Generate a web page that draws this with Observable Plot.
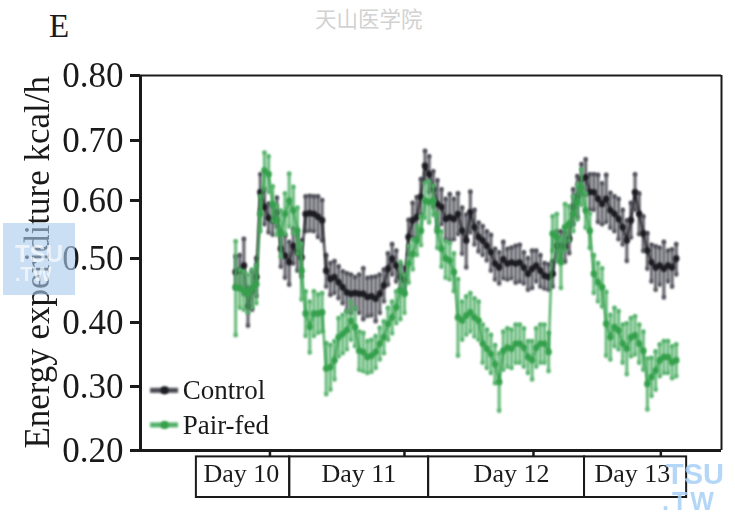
<!DOCTYPE html>
<html><head><meta charset="utf-8">
<script src="https://cdn.jsdelivr.net/npm/d3@7"></script>
<script src="https://cdn.jsdelivr.net/npm/@observablehq/plot@0.6"></script>
<style>
html,body{margin:0;padding:0;background:#fff;width:735px;height:519px;overflow:hidden}
#wrap{position:relative;width:735px;height:519px}
svg{filter:blur(.35px)}
svg g.blurmark{filter:blur(1px)}
.ov{position:absolute;white-space:nowrap;line-height:1}
</style></head><body><div id="wrap"></div>
<script>
const control=[.479,.481,.489,.425,.45,.471,.614,.589,.57,.566,.58,.517,.505,.494,.522,.511,.502,.577,.578,.577,.572,.566,.481,.468,.471,.463,.455,.447,.445,.446,.445,.445,.44,.441,.437,.445,.458,.484,.5,.489,.471,.466,.537,.566,.571,.606,.658,.644,.619,.594,.589,.568,.571,.568,.577,.548,.531,.58,.554,.537,.531,.522,.511,.492,.486,.499,.492,.494,.492,.494,.486,.476,.484,.489,.481,.473,.471,.476,.522,.522,.52,.534,.589,.606,.636,.639,.614,.614,.603,.594,.603,.583,.577,.568,.554,.531,.566,.614,.577,.543,.514,.494,.486,.489,.484,.489,.486,.5];
const controlErr=[.025,.025,.045,.03,.03,.03,.03,.03,.025,.025,.025,.03,.035,.035,.03,.03,.03,.03,.03,.03,.035,.035,.025,.025,.025,.025,.025,.03,.03,.025,.03,.04,.03,.03,.035,.03,.025,.025,.025,.025,.02,.02,.03,.03,.035,.03,.025,.03,.03,.04,.03,.035,.04,.035,.035,.04,.045,.035,.03,.025,.025,.025,.03,.025,.025,.03,.025,.025,.03,.03,.025,.025,.03,.025,.025,.02,.02,.02,.025,.025,.025,.025,.03,.035,.025,.03,.03,.03,.04,.035,.04,.03,.03,.035,.03,.035,.03,.03,.035,.03,.03,.03,.035,.03,.045,.025,.03,.025];
const pairFed=[.455,.453,.45,.445,.453,.46,.577,.65,.644,.594,.566,.543,.577,.6,.583,.548,.481,.414,.393,.414,.414,.416,.328,.33,.341,.377,.382,.388,.403,.393,.356,.354,.346,.348,.354,.367,.377,.398,.408,.424,.45,.445,.492,.508,.531,.548,.6,.597,.6,.548,.517,.5,.497,.479,.408,.403,.411,.416,.408,.403,.367,.359,.351,.335,.307,.356,.361,.359,.367,.367,.361,.346,.341,.361,.367,.367,.354,.543,.537,.494,.554,.56,.577,.597,.622,.583,.548,.476,.463,.455,.398,.377,.393,.388,.367,.359,.377,.38,.367,.356,.304,.315,.325,.341,.346,.346,.338,.341];
const pairFedErr=[.075,.03,.03,.03,.03,.03,.03,.03,.03,.03,.025,.04,.035,.045,.04,.04,.045,.035,.04,.035,.03,.03,.04,.035,.03,.03,.03,.03,.03,.03,.03,.03,.025,.025,.025,.025,.025,.025,.025,.025,.045,.03,.03,.025,.025,.025,.03,.035,.025,.03,.03,.03,.03,.03,.06,.03,.03,.03,.03,.03,.03,.03,.03,.03,.045,.03,.03,.03,.03,.03,.03,.025,.03,.03,.03,.03,.03,.03,.04,.04,.04,.03,.03,.03,.03,.03,.03,.03,.03,.03,.05,.035,.03,.03,.03,.04,.03,.03,.03,.03,.04,.03,.03,.025,.025,.025,.025,.025];
const sampleStepHours=.75;
const yTicks=[.2,.3,.4,.5,.6,.7,.8];
const dayNames=["Day 10","Day 11","Day 12","Day 13"];
const dayEdges=[-6.4,10.6,35.9,64.3,82.9];
const dayLabelAt=[1.8,23.2,51,73];
const dayTicks=[7,31.5,55,78.2];
const legendNames=["Control","Pair-fed"];
const legendY=[.294,.24];
const colors={"Control":"#1c1c22","Pair-fed":"#35a04c"};
const errColors={"Control":"#4a4a54","Pair-fed":"#52b068"};

const tbl=(name,vals,errs)=>vals.map((v,i)=>({name,t:(i+1)*sampleStepHours,v,lo:v-errs[i],hi:v+errs[i]}));
const serif="'Liberation Serif','Times New Roman',serif";
const series=[tbl("Control",control,controlErr),tbl("Pair-fed",pairFed,pairFedErr)];
const xMin=-16.58,xMax=89.25,bottom=.1266;
const days=dayNames.map((d,i)=>({d,x1:dayEdges[i],x2:dayEdges[i+1],c:dayLabelAt[i]}));
const seriesMarks=series.flatMap(s=>{const n=s[0].name;return [
  Plot.ruleX(s,{x:"t",y1:"lo",y2:"hi",stroke:errColors[n],strokeWidth:3,strokeOpacity:.9,className:"blurmark"}),
  Plot.dot(s,{x:"t",y:"lo",r:2.2,fill:errColors[n],className:"blurmark"}),
  Plot.dot(s,{x:"t",y:"hi",r:2.2,fill:errColors[n],className:"blurmark"}),
  Plot.line(s,{x:"t",y:"v",stroke:colors[n],strokeWidth:2,className:"blurmark"}),
  Plot.dot(s,{x:"t",y:"v",r:3.2,fill:colors[n],className:"blurmark"})
]});
const legendRows=legendNames.map((name,i)=>({name,y:legendY[i]}));
// the printed axis is very slightly uneven, so values pass through its tick spacing
const axisSpacing=d3.scaleLinear().domain([bottom,...yTicks]).range([0,47,111,175,239,297,357,422]);
const chart=Plot.plot({
  width:735,height:519,marginLeft:140,marginRight:14,marginTop:75,marginBottom:22,
  style:{fontFamily:serif,background:"transparent",overflow:"visible",color:"#1a1a1a"},
  x:{domain:[xMin,xMax],axis:null},
  y:{transform:d=>axisSpacing(d),domain:[0,422],axis:null},
  marks:[
    Plot.ruleY([.8],{stroke:"#1a1a1a",strokeWidth:2}),
    Plot.ruleY([.2],{stroke:"#1a1a1a",strokeWidth:3}),
    Plot.ruleX([xMin],{y1:.2,y2:.8,stroke:"#1a1a1a",strokeWidth:3}),
    Plot.ruleX([xMax],{y1:.2,y2:.8,stroke:"#1a1a1a",strokeWidth:2}),
    Plot.axisY(yTicks,{tickFormat:d3.format(".2f"),tickSize:10,tickPadding:7,fontSize:35,strokeWidth:3,stroke:"#1a1a1a",label:null,anchor:"left"}),
    Plot.ruleX(dayTicks,{y1:.2,y2:.189,stroke:"#1a1a1a",strokeWidth:2.5}),
    Plot.rect(days,{x1:"x1",x2:"x2",y1:bottom,y2:.19,stroke:"#1a1a1a",strokeWidth:2,fill:"none"}),
    Plot.text(days,{x:"c",y:.164,text:"d",fontSize:26,fill:"#1a1a1a"}),
    Plot.text(["Energy experiditure kcal/h"],{x:-35.3,y:.494,rotate:-90,fontSize:35,fill:"#1a1a1a"}),
    ...seriesMarks,
    ...legendRows.flatMap(r=>[
      Plot.ruleY([r],{x1:-14.75,x2:-9.65,y:"y",stroke:errColors[r.name],strokeWidth:5,className:"blurmark"}),
      Plot.dot([r],{x:-12.2,y:"y",r:4,fill:colors[r.name],className:"blurmark"}),
      Plot.text([r],{x:-8.9,y:"y",text:"name",textAnchor:"start",fontSize:27,fill:"#1a1a1a"})
    ])
  ]
});
const wrap=document.getElementById("wrap");
wrap.appendChild(chart);
const add=(txt,css)=>{const d=document.createElement("div");d.className="ov";d.textContent=txt;d.style.cssText=css;wrap.appendChild(d);return d;};
add("E",`left:49px;top:8px;font:33px ${serif};color:#1a1a1a`);
add("天山医学院","left:315px;top:2px;font:21.5px 'Noto Sans CJK SC',serif;color:#d2d2d2");
add("","left:3px;top:223px;width:72px;height:72px;background:#a9c9ee;opacity:.62");
add("TSU","left:15px;top:240px;font:bold 24px 'Liberation Sans',sans-serif;color:#fff;opacity:.65");
add(".TW","left:15px;top:263px;font:bold 20px 'Liberation Sans',sans-serif;color:#fff;opacity:.65");
add("TSU","left:666px;top:458px;font:bold 29px 'Liberation Sans',sans-serif;color:#a8d0f6;opacity:.85");
add(".TW","left:662px;top:487px;font:bold 25px 'Liberation Sans',sans-serif;color:#a8d0f6;opacity:.85;letter-spacing:3px");
</script></body></html>
